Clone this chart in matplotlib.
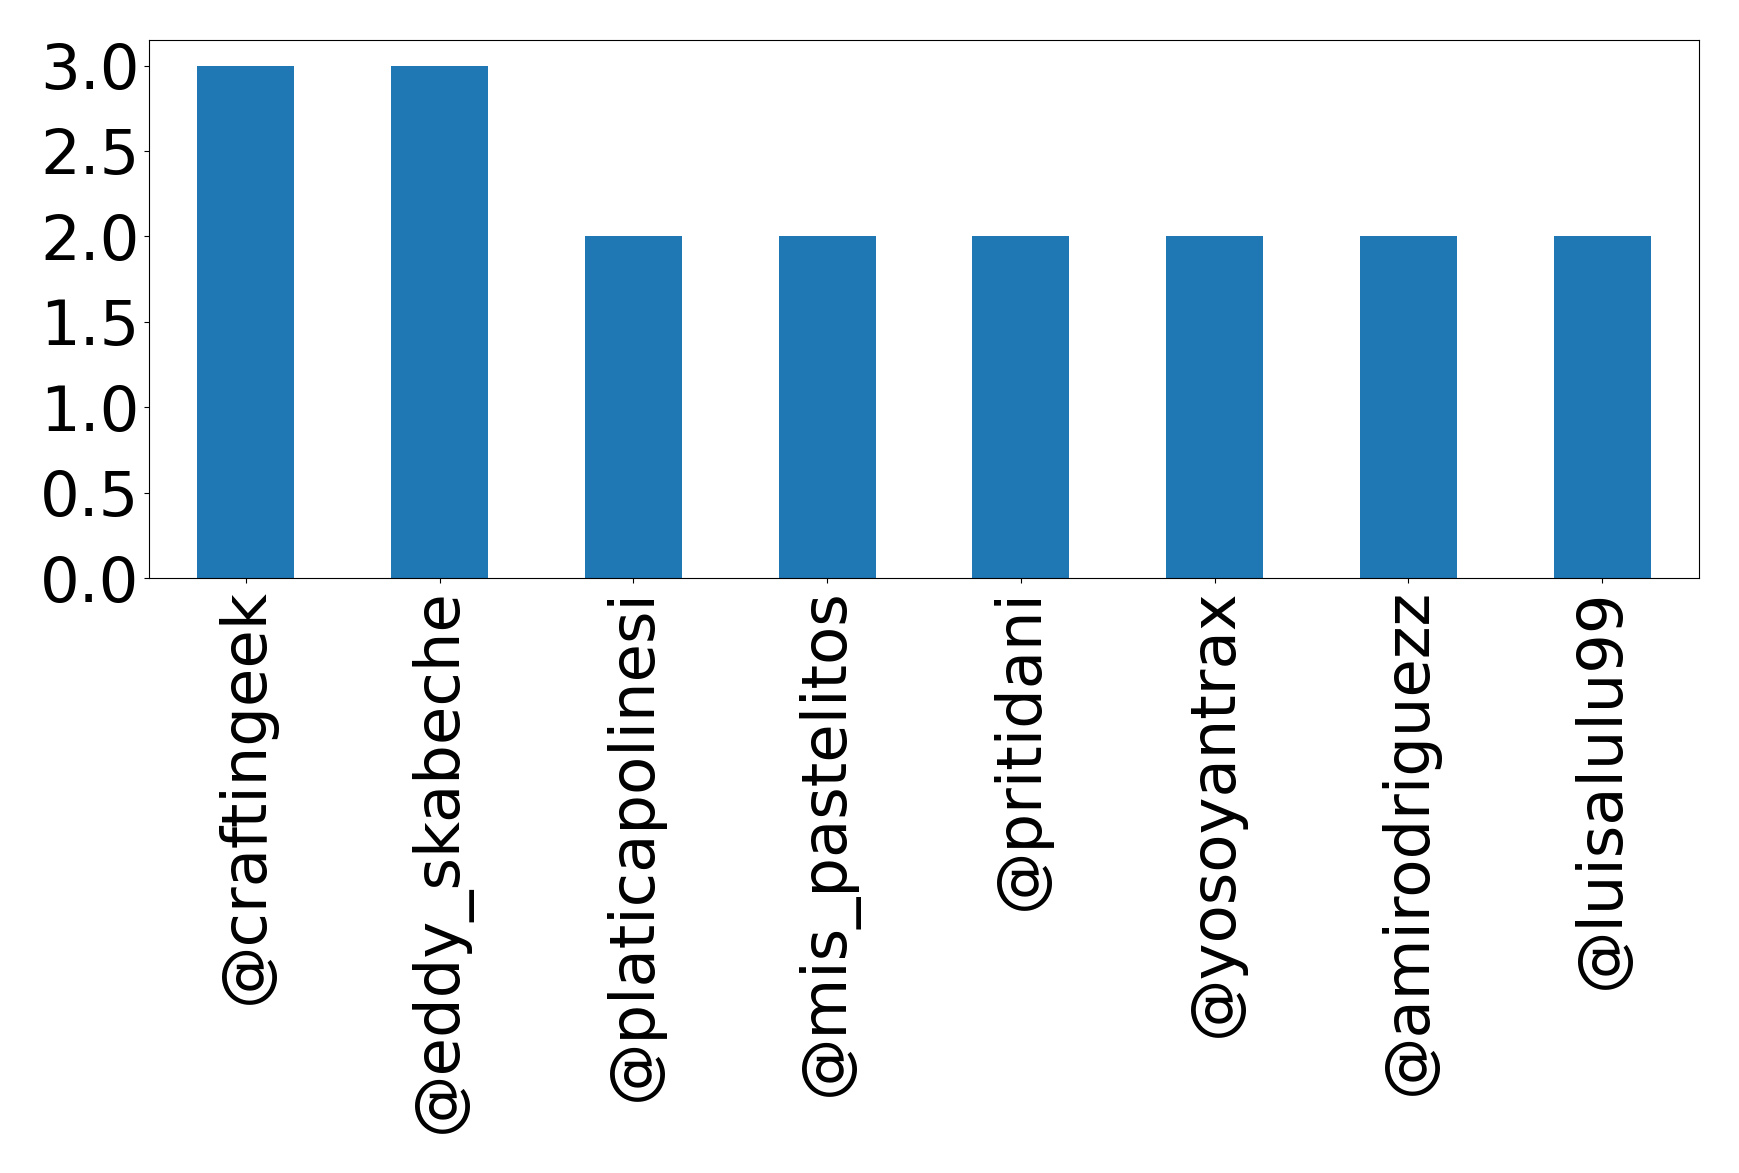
import matplotlib
matplotlib.use("Agg")
import matplotlib.pyplot as plt

users = ["@craftingeek", "@eddy_skabeche", "@platicapolinesi", "@mis_pastelitos",
         "@pritidani", "@yosoyantrax", "@amirodriguezz", "@luisalulu99"]
counts = [3, 3, 2, 2, 2, 2, 2, 2]

fig = plt.figure(figsize=(17.39, 11.73), dpi=100)
ax = fig.add_axes([0.0857, 0.507, 0.977 - 0.0857, 0.966 - 0.507])
x = list(range(len(users)))
ax.bar(x, counts, width=0.5, color="#1f77b4")
ax.set_xlim(-0.5, len(users) - 0.5)
ax.set_ylim(0, 3.15)
ax.set_xticks(x)
ax.set_xticklabels(users, rotation=90, fontsize=45)
ax.set_yticks([0, 0.5, 1.0, 1.5, 2.0, 2.5, 3.0])
ax.set_yticklabels(["0.0", "0.5", "1.0", "1.5", "2.0", "2.5", "3.0"], fontsize=45)
fig.savefig("out.png", dpi=100)
